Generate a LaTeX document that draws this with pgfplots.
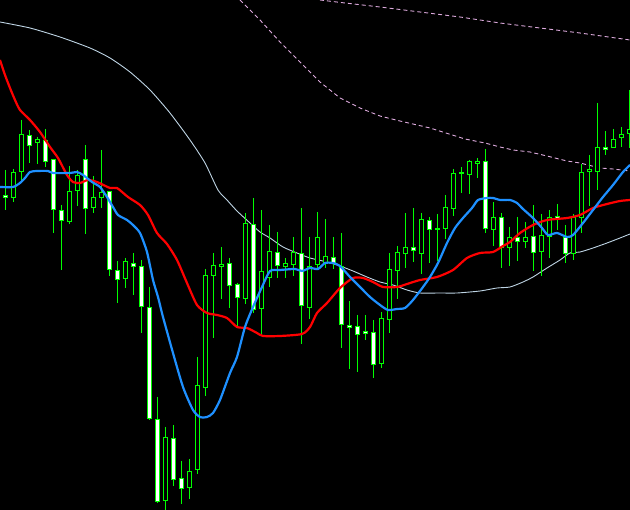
\documentclass[border=0pt]{standalone}
\usepackage{pgfplots}
\usepackage{pgfplotstable}
\pgfplotsset{compat=1.18}
\definecolor{cg}{RGB}{0,255,0}
\definecolor{mablue}{RGB}{30,144,255}
\definecolor{magray}{RGB}{190,212,228}
\definecolor{maplum}{RGB}{221,170,221}

% bearish candles (white bodies): x, wick top, wick bottom, body top, body bottom (pixel rows)
\pgfplotstableread{
x wt wb bt bb
5 170 209 195 197
29 130 162 135 145
45 129 166 140 161
53 159 232 159 209
61 205 269 210 220
85 145 233 159 208
109 191 275 191 269
117 261 302 270 279
133 253 294 263 266
141 260 332 266 306
149 287 419 307 418
157 397 502 419 501
173 425 485 438 479
181 461 503 478 488
229 258 307 263 285
237 283 325 284 297
253 198 312 224 309
277 232 277 252 265
301 208 343 253 305
333 237 268 257 263
341 233 347 266 324
349 301 368 325 327
357 315 371 326 334
365 315 339 331 333
373 320 377 332 364
413 208 261 247 250
429 217 262 220 229
485 149 232 161 228
501 213 267 217 247
517 217 260 237 241
533 205 270 236 252
557 204 229 216 219
565 225 262 237 253
605 131 154 147 149
}\bear

% bullish candles (hollow bodies)
\pgfplotstableread{
x wt wb bt bb
13 169 201 172 197
21 120 182 134 171
37 137 163 139 142
69 166 223 191 221
77 170 205 175 190
93 176 212 197 207
101 150 207 192 197
125 258 287 261 278
165 427 510 437 500
189 459 498 471 487
197 357 473 385 469
205 269 395 275 387
213 253 337 265 275
221 247 298 264 266
245 213 303 223 298
261 210 333 271 308
269 225 286 251 277
285 258 277 263 266
293 237 275 252 264
309 237 318 266 307
317 212 267 237 264
325 219 267 256 263
381 312 367 318 363
389 253 332 269 319
397 246 298 252 270
405 213 267 247 253
421 213 273 219 253
437 214 260 228 229
445 195 238 207 228
453 169 215 173 208
461 167 192 172 173
469 160 193 161 174
477 158 177 161 163
493 202 245 217 229
509 227 265 237 247
525 222 247 237 241
541 214 275 235 251
549 210 257 217 236
573 214 259 217 253
581 164 232 172 217
589 155 205 169 171
597 103 189 147 171
613 129 147 139 147
621 127 146 134 137
629 90 147 129 133
}\bull

\begin{document}
\begin{tikzpicture}
\fill[black] (0,0) rectangle (630pt,510pt);
\begin{axis}[
  at={(0,0)}, anchor=south west,
  scale only axis, width=630pt, height=510pt,
  xmin=0, xmax=630, ymin=0, ymax=510, y dir=reverse,
  hide axis, clip=true,
]
% light moving average
\addplot[magray, line width=0.9pt, smooth, tension=0.4] coordinates {
(0,22) (30,28) (60,37) (90,48) (110,58) (130,72) (150,90) (170,113) (190,140)
(205,163) (218,190) (227,200) (237,211) (250,223) (260,232) (270,238) (283,247)
(297,253) (310,258) (327,262) (340,266) (353,271) (367,277) (380,282) (393,285)
(407,290) (420,293) (440,293) (457,293) (480,291) (497,288) (510,287) (523,282)
(533,277) (547,268) (560,260) (570,253) (580,252) (593,248) (607,243) (620,238) (630,234)};
% dashed averages
\addplot[maplum, line width=0.9pt, dash pattern=on 4pt off 3pt] coordinates {
(240,0) (260,20) (280,42) (300,62) (320,82) (340,98) (360,108) (380,116) (400,121)
(430,128) (465,139) (485,143) (500,147) (513,150) (530,152) (547,156) (567,161)
(580,163) (600,168) (613,169) (630,171)};
\addplot[maplum, line width=0.9pt, dash pattern=on 4pt off 3pt] coordinates {
(320,0) (345,3) (380,7) (420,12) (460,17) (500,23) (540,28) (580,33) (630,40)};

% candles: wicks
\addplot[draw=cg, line width=1.1pt, mark=none, quiver={u=0, v=\thisrow{wb}-\thisrow{wt}+1}]
  table[x expr=\thisrow{x}+0.5, y=wt] {\bear};
\addplot[draw=cg, line width=1.1pt, mark=none, quiver={u=0, v=\thisrow{wb}-\thisrow{wt}+1}]
  table[x expr=\thisrow{x}+0.5, y=wt] {\bull};
% body outlines
\addplot[draw=cg, line width=5pt, mark=none, quiver={u=0, v=\thisrow{bb}-\thisrow{bt}+1}]
  table[x expr=\thisrow{x}+0.5, y=bt] {\bear};
\addplot[draw=cg, line width=5pt, mark=none, quiver={u=0, v=\thisrow{bb}-\thisrow{bt}+1}]
  table[x expr=\thisrow{x}+0.5, y=bt] {\bull};
% body interiors
\addplot[draw=white, line width=3pt, mark=none, quiver={u=0, v=\thisrow{bb}-\thisrow{bt}-1}]
  table[x expr=\thisrow{x}+0.5, y expr=\thisrow{bt}+1] {\bear};
\addplot[draw=black, line width=3pt, mark=none, quiver={u=0, v=\thisrow{bb}-\thisrow{bt}-1}]
  table[x expr=\thisrow{x}+0.5, y expr=\thisrow{bt}+1] {\bull};

% red average
\addplot[red, line width=2.2pt, smooth, tension=0.4] coordinates {
(0,60) (5,75) (10,88) (15,100) (20,110) (30,120) (40,132) (50,147) (58,158) (67,175)
(73,182) (80,183) (88,180) (97,182) (110,188) (117,188) (128,197) (140,205) (148,215)
(157,233) (167,244) (177,260) (187,283) (197,305) (207,313) (217,315) (227,318)
(237,327) (247,328) (257,333) (263,336) (280,336) (302,334) (310,327) (317,313)
(327,303) (340,288) (353,278) (363,278) (373,282) (383,287) (397,287) (407,284)
(420,280) (437,277) (453,270) (467,258) (480,253) (493,252) (503,246) (510,242)
(520,233) (533,225) (547,220) (567,218) (580,215) (593,208) (607,204) (620,201) (630,200)};
% blue average
\addplot[mablue, line width=2.2pt, smooth, tension=0.4] coordinates {
(0,187) (13,187) (20,183) (25,178) (30,172) (37,171) (48,171) (53,173) (70,173)
(77,172) (83,175) (92,182) (100,187) (107,197) (113,207) (118,215) (127,220)
(133,225) (140,233) (147,252) (153,280) (158,297) (163,317) (173,353) (183,387)
(193,410) (200,417) (207,417) (213,413) (220,400) (230,373) (237,357) (245,327)
(253,307) (262,287) (270,271) (280,270) (295,269) (302,271) (310,268) (318,269)
(325,263) (333,263) (340,266) (350,277) (360,287) (370,297) (380,305) (388,310)
(397,309) (405,308) (413,300) (423,287) (430,277) (438,263) (447,243) (455,228)
(463,218) (472,208) (478,200) (487,198) (493,198) (500,200) (510,200) (517,203)
(523,209) (533,218) (542,228) (548,235) (557,233) (567,237) (573,235) (583,223)
(593,210) (603,197) (613,185) (623,172) (630,165)};
\end{axis}
\pgfresetboundingbox
\path[use as bounding box] (0,0) rectangle (630pt,510pt);
\end{tikzpicture}
\end{document}
